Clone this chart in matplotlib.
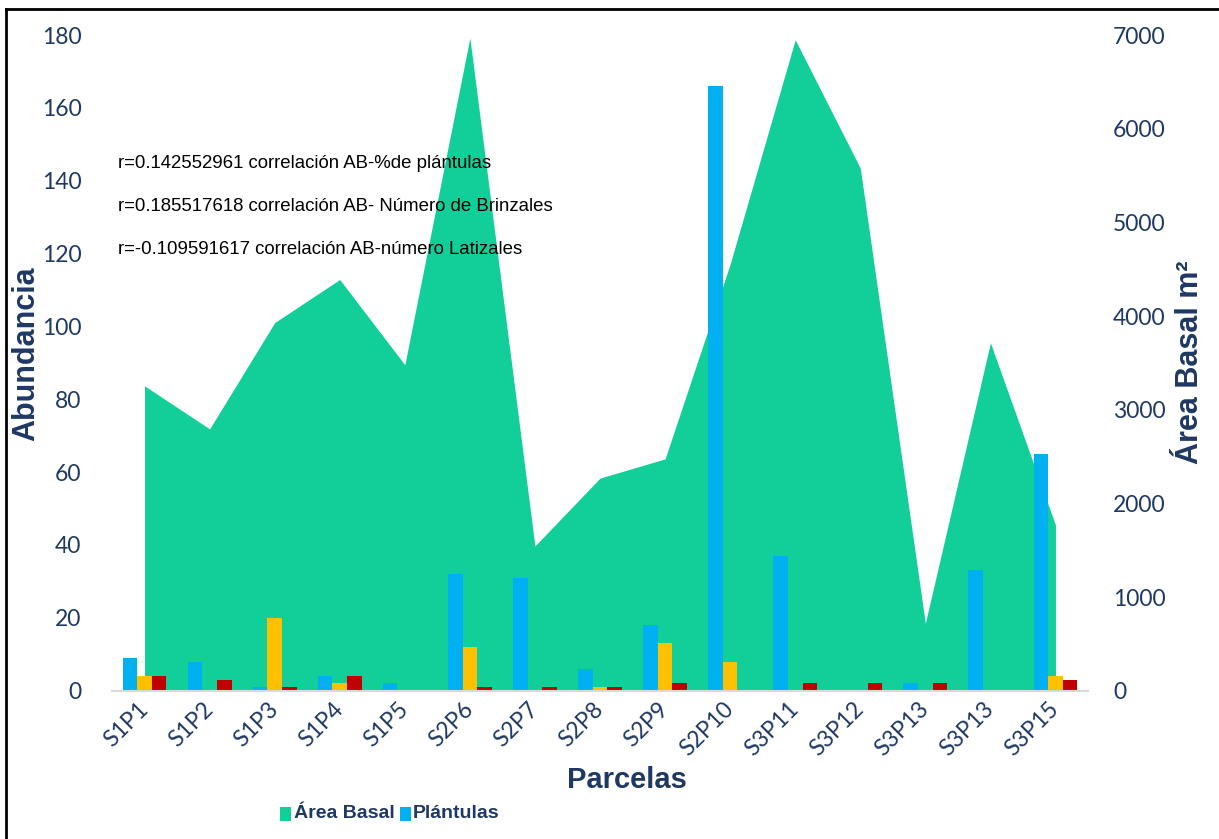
import matplotlib
matplotlib.use("Agg")
import matplotlib.pyplot as plt
from matplotlib.lines import Line2D
from matplotlib.patches import Rectangle
import numpy as np

# Plot labels
parcelas = ["S1P1", "S1P2", "S1P3", "S1P4", "S1P5", "S2P6", "S2P7", "S2P8",
            "S2P9", "S2P10", "S3P11", "S3P12", "S3P13", "S3P13", "S3P15"]

# Basal area per plot (m2, right axis)
area_basal = [3255, 2795, 3930, 4390, 3480, 6970, 1545, 2270,
              2475, 4555, 6950, 5580, 720, 3715, 1770]

# Regeneration counts (left axis)
plantulas = [9, 8, 1, 4, 2, 32, 31, 6, 18, 166, 37, 0, 2, 33, 65]
brinzales = [4, 0, 20, 2, 0, 12, 0, 1, 13, 8, 0, 0, 0, 0, 4]
latizales = [4, 3, 1, 4, 0, 1, 1, 1, 2, 0, 2, 2, 2, 0, 3]

left_ticks = [0, 20, 40, 60, 80, 100, 120, 140, 160, 180]
right_ticks = [0, 1000, 2000, 3000, 4000, 5000, 6000, 7000]

notas = ["r=0.142552961 correlación AB-%de plántulas",
         "r=0.185517618 correlación AB- Número de Brinzales",
         "r=-0.109591617 correlación AB-número Latizales"]

leyenda = ["Área Basal", "Plántulas"]

NAVY = "#1F3864"
GREEN = "#12CF9A"
BLUE = "#00B0F0"
YELLOW = "#FFC000"
RED = "#C00000"

TICK_FONT = ["Lato", "DejaVu Sans"]
TITLE_FONT = ["Liberation Sans", "DejaVu Sans"]

W, H = 1219, 839
fig = plt.figure(figsize=(W / 100, H / 100), dpi=100)
fig.patch.set_facecolor("white")

left, right, bottom, top = 112 / W, 1088 / W, 1 - 690.7 / H, 1 - 35 / H
ax = fig.add_axes([left, bottom, right - left, top - bottom])
ax2 = ax.twinx()
ax.set_zorder(ax2.get_zorder() + 1)
ax.patch.set_visible(False)

x = np.arange(len(parcelas))

# Basal area as filled area on secondary axis
ax2.fill_between(x, 0, area_basal, color=GREEN, linewidth=0)
ax2.set_ylim(0, 7000)
ax2.set_yticks(right_ticks)

# Grouped bars on primary axis
bw = 0.225
ax.bar(x - bw, plantulas, width=bw, color=BLUE, linewidth=0)
ax.bar(x, brinzales, width=bw, color=YELLOW, linewidth=0)
ax.bar(x + bw, latizales, width=bw, color=RED, linewidth=0)
ax.set_ylim(0, 180)
ax.set_yticks(left_ticks)
ax.set_xlim(-0.5, len(parcelas) - 0.5)
ax.set_xticks(x)
ax.set_xticklabels(parcelas, rotation=45, ha="right", va="center",
                   rotation_mode="anchor", fontsize=16.5, color=NAVY,
                   family=TICK_FONT)

for a in (ax, ax2):
    for s in a.spines.values():
        s.set_visible(False)
ax.spines["bottom"].set_visible(True)
ax.spines["bottom"].set_color("#D9D9D9")
ax.spines["bottom"].set_linewidth(1.5)

ax.tick_params(axis="x", length=0, pad=11)
ax.tick_params(axis="y", length=0, pad=22, labelsize=16.5, labelcolor=NAVY)
ax2.tick_params(axis="y", length=0, pad=18, labelsize=16.5, labelcolor=NAVY)
for lab in ax.get_yticklabels() + ax2.get_yticklabels():
    lab.set_family(TICK_FONT)

# Correlation notes
for i, t in enumerate(notas):
    fig.text(118 / W, 1 - (163 + 43.5 * i) / H, t, fontsize=13.4,
             family=["Liberation Sans", "DejaVu Sans"], color="black",
             ha="left", va="center")

# Axis titles
fig.text(26 / W, 1 - 354 / H, "Abundancia", rotation=90, fontsize=22,
         fontweight="bold", family=TITLE_FONT, color=NAVY,
         ha="center", va="center")
fig.text(1190 / W, 1 - 362 / H, "Área Basal m²", rotation=90, fontsize=22,
         fontweight="bold", family=TITLE_FONT, color=NAVY,
         ha="center", va="center")
fig.text(627 / W, 1 - 780 / H, "Parcelas", fontsize=21, fontweight="bold",
         family=TITLE_FONT, color=NAVY, ha="center", va="center")

# Legend
for (sx, tx), lab, col in zip([(280, 294), (400, 413)], leyenda, [GREEN, BLUE]):
    fig.add_artist(Rectangle((sx / W, 1 - 821 / H), 11 / W, 14 / H,
                             transform=fig.transFigure, facecolor=col,
                             edgecolor="none"))
    fig.text(tx / W, 1 - 814 / H, lab, fontsize=14, fontweight="bold",
             family=TITLE_FONT, color=NAVY, ha="left", va="center")

# Outer frame
fig.add_artist(Line2D([6 / W, 6 / W], [0, 1 - 9 / H], color="black", lw=2,
                      transform=fig.transFigure))
fig.add_artist(Line2D([6 / W, 1], [1 - 9 / H, 1 - 9 / H], color="black", lw=2,
                      transform=fig.transFigure))

fig.savefig("out.png", dpi=100, facecolor="white")
